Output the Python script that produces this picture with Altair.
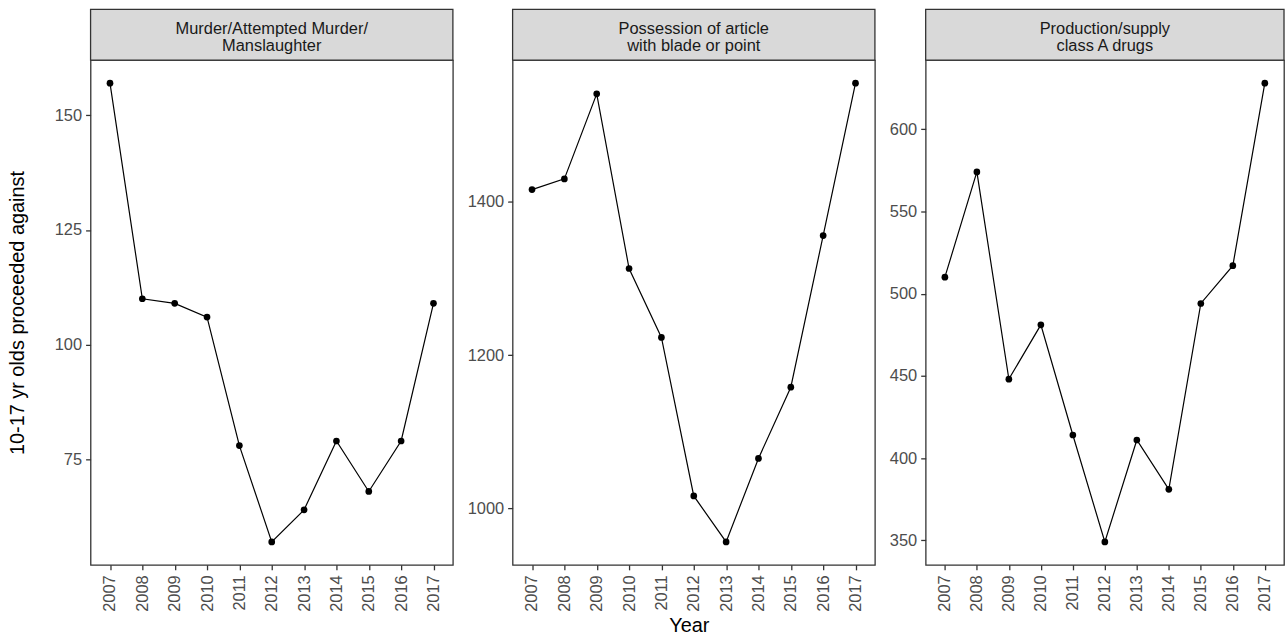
import altair as alt
import pandas as pd

# Young people (10-17) proceeded against, by offence and year
years = [str(y) for y in range(2007, 2018)]
murder = [157, 110, 109, 106, 78, 57, 64, 79, 68, 79, 109]
blade = [1416, 1430, 1541, 1313, 1223, 1016, 956, 1065, 1158, 1356, 1555]
drugs = [510, 574, 448, 481, 414, 349, 411, 381, 494, 517, 628]

strip_titles = [
    ["Murder/Attempted Murder/", "Manslaughter"],
    ["Possession of article", "with blade or point"],
    ["Production/supply", "class A drugs"],
]
tick_values = [
    [75, 100, 125, 150],
    [1000, 1200, 1400],
    [350, 400, 450, 500, 550, 600],
]
panel_widths = [364, 364, 360]

FONT = "Liberation Sans"
FS = 16.5
PANEL_H = 507
STRIP_H = 51


def panel(values, title_lines, ticks, width, y_title=None, x_title=None):
    df = pd.DataFrame({"year": years, "count": values})
    lo, hi = min(values), max(values)
    pad = 0.05 * (hi - lo)  # 5% expansion on each side

    x_axis = dict(labelAngle=270, labelPadding=5)
    if x_title:
        x_axis.update(title=x_title, titlePadding=4, titleX=177)
    else:
        x_axis.update(title=None)
    y_axis = dict(values=ticks, format="d", labelPadding=4)
    if y_title:
        y_axis.update(title=y_title, titlePadding=27)
    else:
        y_axis.update(title=None)

    base = alt.Chart(df).encode(
        x=alt.X("year:O", scale=alt.Scale(type="point", padding=0.6),
                axis=alt.Axis(**x_axis)),
        y=alt.Y("count:Q",
                scale=alt.Scale(domain=[lo - pad, hi + pad], nice=False, zero=False),
                axis=alt.Axis(**y_axis)),
    )
    line = base.mark_line(color="black", strokeWidth=1.2)
    pts = base.mark_point(filled=True, color="black", size=45, opacity=1)

    one = pd.DataFrame({"k": [0]})
    strip = alt.Chart(one).mark_rect(
        fill="#D9D9D9", stroke="#333333", strokeWidth=1.3
    ).encode(
        x=alt.value(0), x2=alt.value(width),
        y=alt.value(-STRIP_H), y2=alt.value(0),
    )
    layers = [line, pts, strip]
    for text, ypos in zip(title_lines, [-26.6, -9.0]):
        layers.append(
            alt.Chart(one).mark_text(
                text=text, font=FONT, fontSize=FS, color="#1A1A1A",
                align="center", baseline="alphabetic",
            ).encode(x=alt.value(width / 2), y=alt.value(ypos))
        )

    return alt.layer(*layers).properties(width=width, height=PANEL_H)


panels = [
    panel(murder, strip_titles[0], tick_values[0], panel_widths[0],
          y_title="10-17 yr olds proceeded against"),
    panel(blade, strip_titles[1], tick_values[1], panel_widths[1], x_title="Year"),
    panel(drugs, strip_titles[2], tick_values[2], panel_widths[2]),
]

chart = alt.hconcat(*panels, spacing=11).properties(
    padding={"left": 6, "top": 6, "right": 0, "bottom": 0},
    background="white",
).configure_axis(
    domain=False, grid=False,
    labelFont=FONT, labelFontSize=FS, labelColor="#4D4D4D",
    tickColor="#333333", tickSize=5, tickWidth=1.3,
    titleFont=FONT, titleFontSize=20, titleColor="#000000", titleFontWeight="normal",
).configure_view(stroke="#333333", strokeWidth=1.3)

chart.save("out.html", embed_options={"renderer": "svg", "actions": False})
